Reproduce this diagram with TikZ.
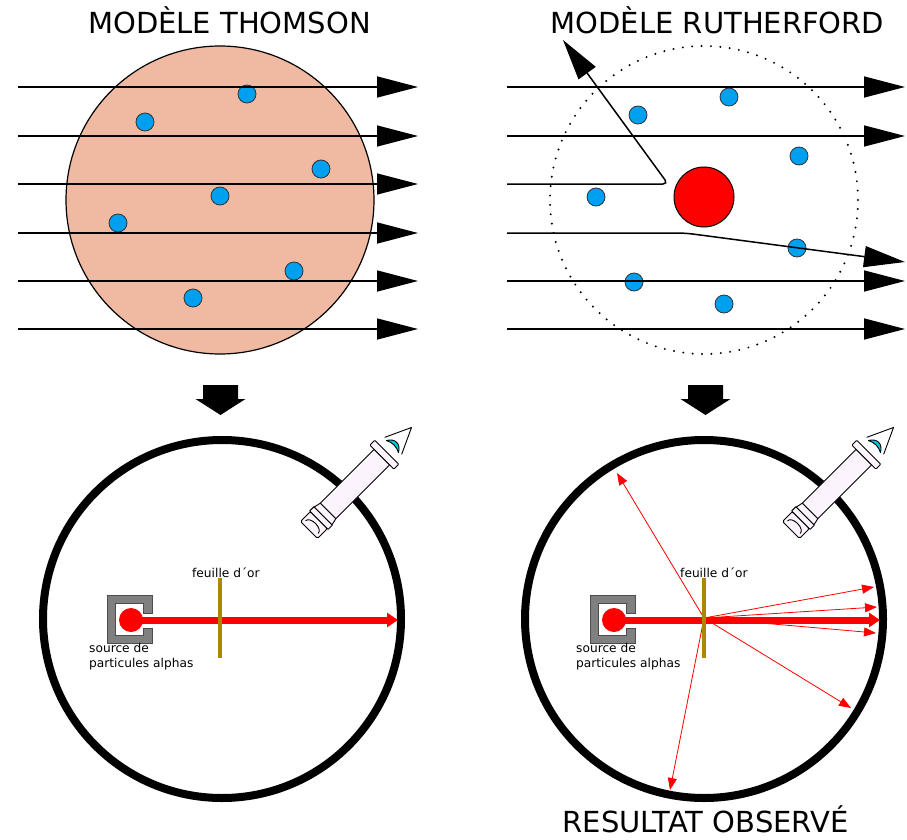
\documentclass[tikz,border=0pt]{standalone}
\usepackage{fontspec}
\setmainfont{DejaVu Sans}
\usetikzlibrary{arrows.meta}

\definecolor{plum}{RGB}{240,186,162}
\definecolor{electron}{RGB}{0,160,240}
\definecolor{gold}{RGB}{170,136,0}
\definecolor{lamp}{RGB}{252,244,252}
\definecolor{lens}{RGB}{0,200,215}
\definecolor{casing}{RGB}{128,128,128}

\tikzset{
  % alpha source: C-shaped shield around the emitter
  source/.pic={
    \filldraw[fill=casing,draw=black!70,line width=0.7pt]
      (-24,-25) -- (21,-25) -- (21,-7) -- (12,-7) -- (12,-17) -- (-16,-17)
      -- (-16,15) -- (12,15) -- (12,8) -- (21,8) -- (21,23) -- (-24,23) -- cycle;
  },
  % microscope used to watch the scintillations
  microscope/.pic={
    \begin{scope}[draw=black,line width=0.9pt,fill=lamp,line join=round]
      \filldraw[rounded corners=1.5pt] (0,-12) rectangle (14,12);
      \draw (4,-9) .. controls (11,-9) and (11,9) .. (4,9);
      \filldraw (14,-13) rectangle (20,13);
      \filldraw (20,-12.5) -- (27,-11) -- (27,11) -- (20,12.5) -- cycle;
      \filldraw (27,-11) rectangle (103,11);
      \filldraw[rounded corners=1pt] (103,-17) rectangle (110,17);
      \draw (119,-12) -- (145,0) -- (119,12);
      \filldraw[fill=lens] (118,-8.5) .. controls (126,-4) and (126,4) .. (118,8.5)
        .. controls (121,3) and (121,-3) .. cycle;
    \end{scope}
  },
  % block arrow between the two rows
  downarrow/.pic={
    \fill (-17.5,0) -- (17.5,0) -- (17.5,14) -- (25,14) -- (0,30) -- (-25,14) -- (-17.5,14) -- cycle;
  }
}

\begin{document}
\begin{tikzpicture}[x=1pt,y=-1pt,
  ray/.style={line width=1.5pt,-{Triangle[length=41pt,width=21pt]}},
  electron/.style={circle,fill=electron,draw=black!80,line width=0.8pt,minimum size=18pt,inner sep=0pt},
  title/.style={font=\fontsize{29}{34}\selectfont,anchor=base,inner sep=0pt},
  smalltext/.style={font=\fontsize{12.2}{15}\selectfont,inner sep=0pt,align=left},
  chamber/.style={circle,draw=black,line width=8pt,minimum size=358pt,inner sep=0pt},
  beam/.style={red,line width=7pt,-{Triangle[length=11pt,width=14pt]}},
  scatter/.style={red,line width=0.8pt,-{Triangle[length=12pt,width=9pt]}},
  foil/.style={fill=gold,minimum width=4pt,minimum height=80pt,inner sep=0pt},
  emitter/.style={circle,fill=red,minimum size=24pt,inner sep=0pt},
]
\useasboundingbox (0,0) rectangle (907,840);

% ---------------- titles ----------------
\node[title] (thomsonTitle) at (229.5,34) {MODÈLE THOMSON};
\node[title] (rutherfordTitle) at (717.5,34) {MODÈLE RUTHERFORD};
\node[title] (resultTitle) at (705.5,832) {RESULTAT OBSERVÉ};

% ---------------- Thomson atom ----------------
\node[circle,fill=plum,draw=black,line width=1.2pt,minimum size=308pt,inner sep=0pt] (tatom) at (220,200) {};
\foreach \p [count=\i] in {(247,94),(145,122),(321,169),(220,196),(118,223),(294,271),(193,298)}
  \node[electron] (te\i) at \p {};
\foreach \y [count=\i] in {87,136,184,233,281,329} {
  \coordinate (ta\i) at (18,\y);
  \coordinate (tb\i) at (418,\y);
  \draw[ray] (ta\i) -- (tb\i);
}

% ---------------- Rutherford atom ----------------
\node[circle,draw=black,line width=2.2pt,dash pattern=on 0pt off 9.4pt,line cap=round,
      minimum size=308pt,inner sep=0pt] (ratom) at (704,200) {};
\node[circle,fill=red,draw=black,line width=1pt,minimum size=60pt,inner sep=0pt] (nucleus) at (704,197) {};
\foreach \p [count=\i] in {(638,115),(729,97),(799,156),(596,197),(797,248),(634,282),(724,304)}
  \node[electron] (re\i) at \p {};
\foreach \y [count=\i] in {87,136,184,233,281,329} {
  \coordinate (ra\i) at (507,\y);
  \coordinate (rb\i) at (905,\y);
}
\foreach \i in {1,2,5,6} \draw[ray] (ra\i) -- (rb\i);
\coordinate (bounce) at (668,184);
\coordinate (back) at (563,40);
\draw[ray,rounded corners=5pt] (ra3) -- (bounce) -- (back);
\coordinate (bend) at (685,233);
\coordinate (deflect) at (905,262);
\draw[ray,rounded corners=8pt] (ra4) -- (bend) -- (deflect);

% ---------------- transition arrows ----------------
\pic at (220.5,385) {downarrow};
\pic at (705.5,385) {downarrow};

% ---------------- expected result (Thomson) ----------------
\node[chamber] (chamberL) at (222,619) {};
\pic[rotate=45] at (309,530) {microscope};
\pic at (131,620) {source};
\coordinate (hitL) at (398,620);
\draw[beam] (131,620) -- (hitL);
\node[emitter] (emitL) at (131,620) {};
\node[foil] (foilL) at (220,618) {};
\node[smalltext,anchor=base west] (foilLabelL) at (192,577) {feuille d´or};
\node[smalltext,anchor=north west] (srcLabelL) at (89,643.5) {source de\\particules alphas};

% ---------------- observed result (Rutherford) ----------------
\node[chamber] (chamberR) at (704,619) {};
\pic[rotate=45] at (791,530) {microscope};
\pic at (614,620) {source};
\coordinate (hitR) at (880,620);
\draw[beam] (614,620) -- (hitR);
\node[emitter] (emitR) at (614,620) {};
\coordinate (impact) at (704,618);
\foreach \q in {(617,473),(670,790),(874,587),(877,607),(876,633),(851,708)}
  \draw[scatter] (impact) -- \q;
\node[foil] (foilR) at (704,618) {};
\node[smalltext,anchor=base west] (foilLabelR) at (680,577) {feuille d´or};
\node[smalltext,anchor=north west] (srcLabelR) at (576,643.5) {source de\\particules alphas};

\end{tikzpicture}
\end{document}
